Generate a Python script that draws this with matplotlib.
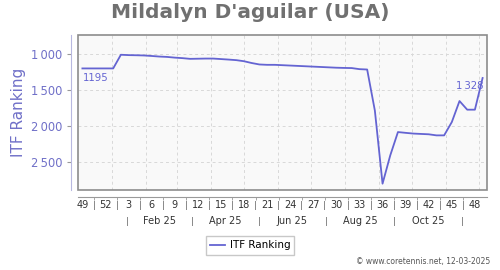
import numpy as np
import matplotlib
matplotlib.use('Agg')
import matplotlib.pyplot as plt
from matplotlib.patches import Rectangle

# weekly ITF ranking, week 49/2024 .. week 49/2025
dates = np.arange(np.datetime64('2024-12-05'), np.datetime64('2025-12-11'), np.timedelta64(7, 'D'))
ranks = [1195, 1195, 1195, 1195, 1195, 1005, 1010, 1012, 1015, 1022,
         1030, 1035, 1045, 1052, 1062, 1060, 1058, 1058, 1065, 1072,
         1080, 1095, 1120, 1140, 1145, 1145, 1150, 1155, 1160, 1165,
         1170, 1175, 1180, 1185, 1188, 1190, 1205, 1210, 1780, 2796,
         2403, 2079, 2090, 2100, 2105, 2110, 2125, 2125, 1940, 1648,
         1768, 1768, 1328]

week_labels = ['49', '52', '3', '6', '9', '12', '15', '18', '21', '24',
               '27', '30', '33', '36', '39', '42', '45', '48']
month_labels = ['Feb 25', 'Apr 25', 'Jun 25', 'Aug 25', 'Oct 25']
month_seps = np.array(['2025-01-15', '2025-03-15', '2025-05-15', '2025-07-15',
                       '2025-09-15', '2025-11-16'], dtype='datetime64[D]')
month_grid = np.arange(np.datetime64('2025-01'), np.datetime64('2026-01'),
                       np.timedelta64(1, 'M')).astype('datetime64[D]')
y_ticks = [1000, 1500, 2000, 2500]

line_col = '#6464d2'
tick_col = '#7070c8'

fig = plt.figure(figsize=(5, 2.7), dpi=100)
ax = fig.add_axes([0.156, 0.296, 0.818, 0.574])
ax.set_facecolor('#f9f9f9')

ax.plot(dates, ranks, color=line_col, linewidth=1.3, label='ITF Ranking')

ax.set_xlim(np.datetime64('2024-12-01'), np.datetime64('2025-12-08'))
ax.set_ylim(2885, 732)

# grid
for d in month_grid:
    ax.axvline(d, color='#d8d8d8', linestyle=(0, (3, 3)), linewidth=0.7, zorder=0)
for v in y_ticks:
    ax.axhline(v, color='#d8d8d8', linestyle=(0, (3, 3)), linewidth=0.7, zorder=0)

# box around the plot area
ax.add_patch(Rectangle((0, 0), 1, 1, transform=ax.transAxes, fill=False,
                       edgecolor='#8c8c8c', linewidth=1.2, clip_on=False, zorder=5))

for s in ['top', 'right']:
    ax.spines[s].set_visible(False)
ax.spines['left'].set_position(('outward', 5))
ax.spines['left'].set_color('#b8b8e0')
ax.spines['bottom'].set_position(('outward', 5))
ax.spines['bottom'].set_color('#999999')

ax.set_yticks(y_ticks)
ax.set_yticklabels(['{:,}'.format(v).replace(',', '\u2009') for v in y_ticks])
ax.tick_params(axis='y', colors='#999999', labelcolor=tick_col, labelsize=8.3, length=3)

wk = dates[:52:3]
seps = wk[:-1] + np.timedelta64(252, 'h')
ax.set_xticks(wk)
ax.set_xticklabels(week_labels)
ax.set_xticks(seps, minor=True)
ax.set_xticklabels(['|'] * len(seps), minor=True)
ax.tick_params(axis='x', which='major', length=0, labelsize=7, labelcolor='#333333', pad=2.5)
ax.tick_params(axis='x', which='minor', length=2, color='#999999', labelsize=6.5,
               labelcolor='#666666', pad=1)

# month row
tr = ax.get_xaxis_transform()
for d in month_seps:
    ax.text(d, -0.2, '|', transform=tr, ha='center', va='center', fontsize=6.5, color='#666666')
for i, lab in enumerate(month_labels):
    mid = month_seps[i] + (month_seps[i + 1] - month_seps[i]) / 2
    ax.text(mid, -0.2, lab, transform=tr, ha='center', va='center', fontsize=7, color='#333333')

ax.annotate('1195', (dates[0], ranks[0]), xytext=(0, -3), textcoords='offset points',
            ha='left', va='top', fontsize=7.3, color=line_col)
ax.annotate('1\u2009328', (dates[-1], ranks[-1]), xytext=(1, -2), textcoords='offset points',
            ha='right', va='top', fontsize=7.3, color=line_col)

fig.suptitle("Mildalyn D'aguilar (USA)", x=0.5, y=0.99, fontsize=14.5, fontweight='bold',
             color='#707070')
ax.set_ylabel('ITF Ranking', fontsize=11, color=tick_col, labelpad=3)

fig.legend(loc='center', bbox_to_anchor=(0.5, 0.091), fontsize=7.5, frameon=True,
           fancybox=False, edgecolor='#bbbbbb', handlelength=1.5, handletextpad=0.4,
           borderpad=0.4)
fig.text(0.98, 0.03, '\u00a9 www.coretennis.net, 12-03-2025', ha='right', va='center',
         fontsize=5.5, color='#555555')

fig.savefig('out.png', dpi=100)
